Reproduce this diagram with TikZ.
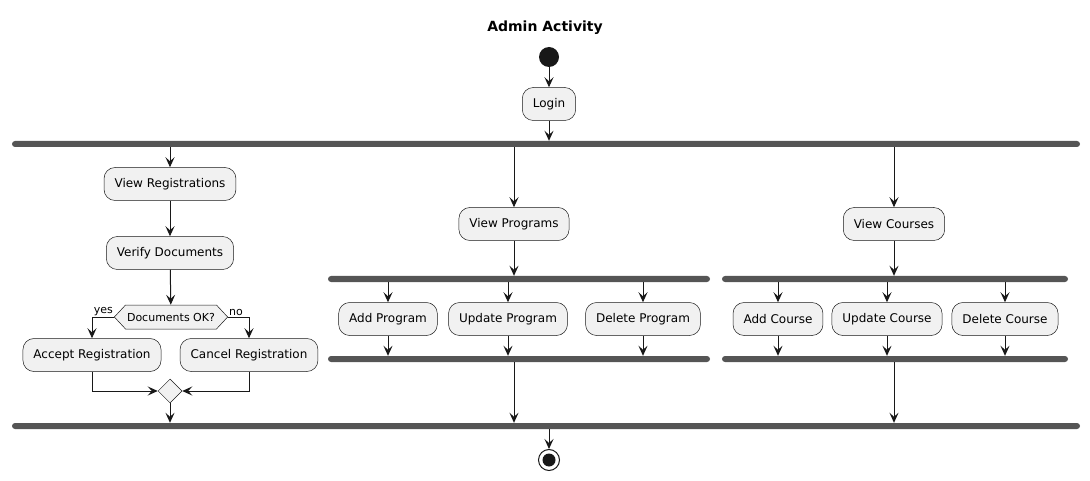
\documentclass[tikz,border=0pt]{standalone}
\usepackage{fontspec}
\setmainfont{DejaVu Sans}
\usetikzlibrary{arrows.meta,shapes.geometric,shapes.symbols}
\definecolor{boxfill}{HTML}{F1F1F1}
\definecolor{boxline}{HTML}{181818}
\definecolor{barcol}{HTML}{555555}
\definecolor{ink}{HTML}{181818}
\begin{document}
\begin{tikzpicture}[x=1pt,y=-1pt,
 act/.style={draw=boxline, line width=0.5pt, fill=boxfill, rounded corners=11pt, minimum height=33pt, inner xsep=10.5pt, font=\fontsize{12}{14}\selectfont},
 bar/.style={fill=barcol, rounded corners=3pt, minimum height=6pt, inner sep=0pt},
 flow/.style={draw=ink, line width=1pt, -{Stealth[length=10pt,width=9pt,inset=4pt]}},
 lbl/.style={font=\fontsize{11}{13}\selectfont, inner sep=1pt}
]
\useasboundingbox (0,0) rectangle (1090,481);
\node[font=\bfseries\fontsize{14}{16}\selectfont] (title) at (545,28) {Admin Activity};
\node[circle, fill=ink, minimum size=20pt, inner sep=0pt] (start) at (549,57) {};
\node[act] (login) at (549,104) {Login};
\node[bar, minimum width=1068pt] (fork) at (546,144) {};
\node[bar, minimum width=1068pt] (join) at (546,426) {};
% branch 1
\node[act] (vreg) at (170,184) {View Registrations};
\node[act] (vdoc) at (170,253) {Verify Documents};
\node[signal, signal to=west and east, signal pointer angle=94, draw=boxline, line width=0.5pt, fill=boxfill, minimum height=24pt, inner xsep=1.5pt, inner ysep=0pt, font=\fontsize{11}{13}\selectfont] (dec) at (171,317) {Documents OK?};
\node[act] (acc) at (92,355) {Accept Registration};
\node[act] (can) at (249,355) {Cancel Registration};
\node[diamond, draw=boxline, line width=0.5pt, fill=boxfill, minimum width=24pt, minimum height=24pt, inner sep=0pt] (merge) at (170,391) {};
\node[lbl, anchor=south east] (yes) at (dec.west) {yes};
\node[lbl, anchor=south west] (no) at (dec.east) {no};
% branch 2
\node[act] (vprog) at (514,224) {View Programs};
\node[bar, minimum width=382pt] (pfork) at (519,279) {};
\node[bar, minimum width=382pt] (pjoin) at (519,359) {};
\node[act] (addp) at (388,319) {Add Program};
\node[act] (updp) at (508,319) {Update Program};
\node[act] (delp) at (643,319) {Delete Program};
% branch 3
\node[act] (vcour) at (894,224) {View Courses};
\node[bar, minimum width=346pt] (cfork) at (895,279) {};
\node[bar, minimum width=346pt] (cjoin) at (895,359) {};
\node[act] (addc) at (778,319) {Add Course};
\node[act] (updc) at (887,319) {Update Course};
\node[act] (delc) at (1005,319) {Delete Course};
% end
\node[circle, draw=ink, line width=1pt, minimum size=21pt, inner sep=0pt] (end) at (549,460) {};
\node[circle, fill=ink, minimum size=13pt, inner sep=0pt] (enddot) at (end) {};
% connectors
\draw[flow] (start) -- (login);
\draw[flow] (login) -- (fork.north -| login);
\draw[flow] (fork.south -| vreg) -- (vreg);
\draw[flow] (vreg) -- (vdoc);
\draw[flow] (vdoc) -- (dec);
\draw[flow] (dec.west) -| (acc);
\draw[flow] (dec.east) -| (can);
\draw[flow] (acc.south) |- (merge.west);
\draw[flow] (can.south) |- (merge.east);
\draw[flow] (merge) -- (join.north -| merge);
\draw[flow] (fork.south -| vprog) -- (vprog);
\draw[flow] (vprog) -- (pfork.north -| vprog);
\draw[flow] (pfork.south -| addp) -- (addp);
\draw[flow] (pfork.south -| updp) -- (updp);
\draw[flow] (pfork.south -| delp) -- (delp);
\draw[flow] (addp) -- (pjoin.north -| addp);
\draw[flow] (updp) -- (pjoin.north -| updp);
\draw[flow] (delp) -- (pjoin.north -| delp);
\draw[flow] (pjoin.south -| vprog) -- (join.north -| vprog);
\draw[flow] (fork.south -| vcour) -- (vcour);
\draw[flow] (vcour) -- (cfork.north -| vcour);
\draw[flow] (cfork.south -| addc) -- (addc);
\draw[flow] (cfork.south -| updc) -- (updc);
\draw[flow] (cfork.south -| delc) -- (delc);
\draw[flow] (addc) -- (cjoin.north -| addc);
\draw[flow] (updc) -- (cjoin.north -| updc);
\draw[flow] (delc) -- (cjoin.north -| delc);
\draw[flow] (cjoin.south -| vcour) -- (join.north -| vcour);
\draw[flow] (join.south -| end) -- (end);
\end{tikzpicture}
\end{document}
